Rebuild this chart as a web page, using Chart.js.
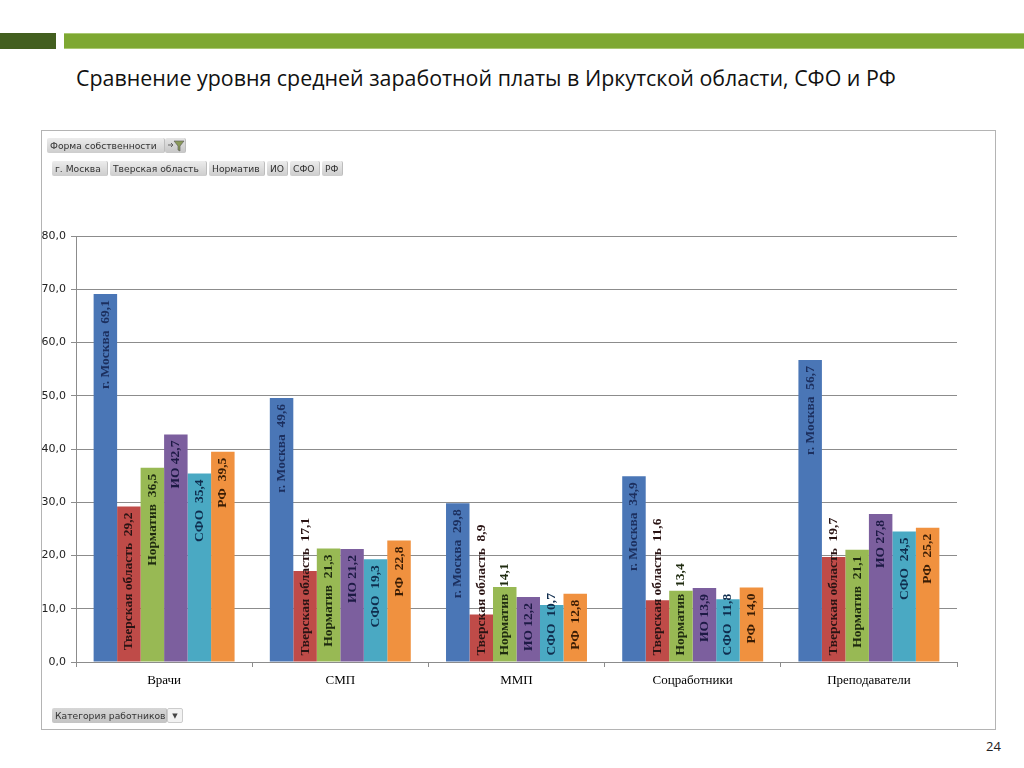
<!DOCTYPE html>
<html>
<head>
<meta charset="utf-8">
<script src="https://cdn.jsdelivr.net/npm/chart.js@4/dist/chart.umd.min.js"></script>
<style>
  html,body{margin:0;padding:0;background:#fff;}
  body{width:1024px;height:768px;position:relative;overflow:hidden;font-family:"DejaVu Sans",sans-serif;}
  .bar-dark{position:absolute;left:0;top:33px;width:56px;height:16px;background:#435f1f;}
  .bar-light{position:absolute;left:64px;top:33px;width:960px;height:16px;background:#7ea832;border-top:1px solid #a9c872;border-bottom:1px solid #a9c872;box-sizing:border-box;}
  .title{position:absolute;left:76px;top:63px;font-family:"Open Sans",sans-serif;font-size:21.4px;color:#111;white-space:nowrap;}
  .frame{position:absolute;left:41px;top:130px;width:955px;height:600px;border:1px solid #b4b4b4;box-sizing:border-box;}
  .btn{position:absolute;height:15px;line-height:15px;font-size:9.2px;color:#333;padding:0 3px;box-sizing:border-box;
       background:linear-gradient(#ececec,#cdcdcd);border-right:1px solid #bdbdbd;border-radius:2px;white-space:nowrap;z-index:3;overflow:hidden;}
  .page{position:absolute;left:986px;top:737px;font-size:13px;color:#222;font-family:"Open Sans",sans-serif;}
  canvas{position:absolute;left:0;top:0;z-index:2;}
</style>
</head>
<body>
<div class="bar-dark"></div>
<div class="bar-light"></div>
<div class="title">Сравнение уровня средней заработной платы в Иркутской области, СФО и РФ</div>
<div class="frame"></div>
<div class="btn" style="left:47px;top:138px;width:118px;">Форма собственности</div>
<div class="btn" style="left:165px;top:138px;width:21px;padding:0;background:linear-gradient(#e4e4e4,#c6c6c6);">
  <svg width="21" height="15" viewBox="0 0 21 15" style="display:block">
    <path d="M3 7 h4" stroke="#666" stroke-width="1.2"/>
    <path d="M6 5 l2 2 l-2 2" stroke="#666" stroke-width="1" fill="none"/>
    <path d="M9 3 h10 l-4 5 v5 l-2 -1 v-4 z" fill="#8a9a5a" stroke="#555" stroke-width="0.6"/>
  </svg>
</div>
<div class="btn" style="left:52px;top:161px;width:56px;">г. Москва</div>
<div class="btn" style="left:110px;top:161px;width:97px;">Тверская область</div>
<div class="btn" style="left:209px;top:161px;width:56px;">Норматив</div>
<div class="btn" style="left:267px;top:161px;width:21px;">ИО</div>
<div class="btn" style="left:290px;top:161px;width:30px;">СФО</div>
<div class="btn" style="left:322px;top:161px;width:21px;">РФ</div>
<div class="btn" style="left:52px;top:708px;width:115px;background:linear-gradient(#d6d6d6,#c4c4c4);">Категория работников</div>
<div class="btn" style="left:167px;top:708px;width:16px;padding:0;background:#f2f2f2;border:1px solid #ccc;font-size:7px;color:#444;text-align:center;">&#9660;</div>
<div class="page">24</div>
<canvas id="c" width="1024" height="768"></canvas>
<script>
const categories = ["Врачи", "СМП", "ММП", "Соцработники", "Преподаватели"];
const seriesNames = ["г. Москва", "Тверская область", "Норматив", "ИО", "СФО", "РФ"];
const moscow   = [69.1, 49.6, 29.8, 34.9, 56.7];
const tver     = [29.2, 17.1, 8.9, 11.6, 19.7];
const normativ = [36.5, 21.3, 14.1, 13.4, 21.1];
const io       = [42.7, 21.2, 12.2, 13.9, 27.8];
const sfo      = [35.4, 19.3, 10.7, 11.8, 24.5];
const rf       = [39.5, 22.8, 12.8, 14.0, 25.2];
const yTicks   = [0, 10, 20, 30, 40, 50, 60, 70, 80];

const seriesValues = [moscow, tver, normativ, io, sfo, rf];
const barColors   = ["#4a76b6", "#bf4b48", "#98b954", "#7c5f9e", "#4aa9c3", "#f0913f"];
const labelColors = ["#1c2f5e", "#2a1414", "#1f2b10", "#1d1a45", "#0f2d4e", "#3a1d05"];
const labelSep    = ["  ", "  ", "  ", " ", "  ", "  "];

const fmt = v => v.toFixed(1).replace('.', ',');

const datasets = seriesNames.map((n, i) => ({
  label: n,
  data: seriesValues[i],
  backgroundColor: barColors[i],
  borderWidth: 0,
  categoryPercentage: 0.8,
  barPercentage: 1.0
}));

const labelPlugin = {
  id: 'vlabels',
  afterDatasetsDraw(chart) {
    const ctx = chart.ctx;
    ctx.save();
    ctx.font = 'bold 13.5px "Liberation Serif", serif';
    chart.data.datasets.forEach((ds, di) => {
      const meta = chart.getDatasetMeta(di);
      meta.data.forEach((bar, j) => {
        const text = seriesNames[di] + labelSep[di] + fmt(ds.data[j]);
        const w = ctx.measureText(text).width;
        const h = bar.base - bar.y;
        const pad = 6;
        ctx.save();
        ctx.fillStyle = labelColors[di];
        ctx.textBaseline = 'middle';
        if (w + 2 * pad <= h) {
          ctx.translate(bar.x, bar.y + pad);
          ctx.rotate(-Math.PI / 2);
          ctx.textAlign = 'right';
        } else {
          ctx.translate(bar.x, bar.base - pad);
          ctx.rotate(-Math.PI / 2);
          ctx.textAlign = 'left';
        }
        ctx.fillText(text, 0, 0);
        ctx.restore();
      });
    });
    ctx.restore();
  }
};

new Chart(document.getElementById('c'), {
  type: 'bar',
  data: { labels: categories, datasets },
  options: {
    responsive: false,
    animation: false,
    devicePixelRatio: 1,
    layout: { padding: { left: 36, top: 236, right: 67, bottom: 60 } },
    plugins: { legend: { display: false }, tooltip: { enabled: false } },
    scales: {
      x: {
        afterFit(s) { s.height = 46; },
        grid: { display: true, drawOnChartArea: false, drawTicks: true, tickLength: 5, color: '#8c8c8c', offset: true },
        border: { color: '#8c8c8c' },
        ticks: { color: '#000', font: { family: '"Liberation Serif", serif', size: 13 }, padding: 6 }
      },
      y: {
        min: 0, max: 80,
        afterFit(s) { s.width = 40; },
        afterBuildTicks(s) { s.ticks = yTicks.map(v => ({ value: v })); },
        grid: { color: '#8c8c8c', tickLength: 5 },
        border: { color: '#8c8c8c' },
        ticks: { color: '#222', font: { family: '"DejaVu Sans", sans-serif', size: 11 }, padding: 5, callback: v => fmt(v) }
      }
    }
  },
  plugins: [labelPlugin]
});
</script>
</body>
</html>
